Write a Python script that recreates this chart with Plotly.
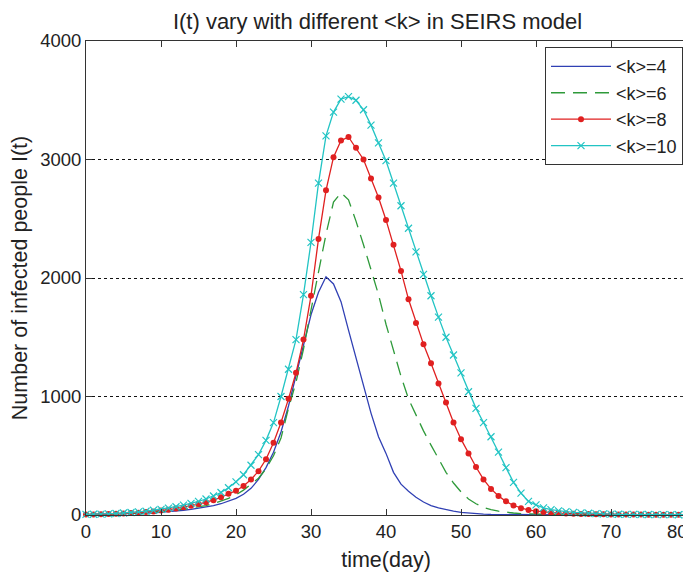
import plotly.graph_objects as go

days = list(range(0, 81))

k4 = [3, 4, 5, 6, 7, 9, 11, 13, 16, 19, 23, 28, 33, 40, 47, 56, 66, 79, 95, 115,
      140, 175, 225, 300, 400, 530, 700, 920, 1170, 1430, 1690, 1880, 2010, 1950, 1800, 1560, 1320, 1090, 860, 660,
      520, 360, 260, 200, 150, 110, 80, 60, 45, 32, 22, 15, 10, 7, 5, 4, 3, 3, 2, 2,
      2, 1, 1, 1, 1, 1, 1, 1, 1, 1, 1, 1, 1, 1, 1, 1, 1, 1, 1, 1, 1]

k6 = [3, 4, 5, 6, 8, 10, 12, 15, 19, 23, 28, 34, 41, 49, 58, 68, 80, 95, 115, 140,
      170, 210, 260, 310, 390, 500, 650, 900, 1120, 1400, 1730, 2040, 2370, 2640, 2720, 2660, 2480, 2280, 2060, 1860,
      1610, 1380, 1170, 980, 840, 710, 590, 470, 360, 270, 195, 135, 95, 65, 45, 32, 23, 17, 12, 9,
      7, 6, 5, 4, 4, 3, 3, 3, 2, 2, 2, 2, 2, 1, 1, 1, 1, 1, 1, 1, 1]

k8 = [4, 5, 6, 8, 10, 13, 16, 20, 25, 30, 37, 45, 54, 65, 78, 92, 108, 125, 150, 180,
      205, 245, 300, 370, 470, 610, 780, 980, 1200, 1480, 1850, 2330, 2740, 3020, 3160, 3190, 3100, 3000, 2840, 2680,
      2490, 2280, 2060, 1820, 1620, 1440, 1280, 1110, 950, 780, 640, 520, 405, 300, 220, 160, 115, 80, 58, 42,
      32, 25, 20, 16, 13, 11, 9, 8, 7, 6, 5, 5, 4, 4, 4, 3, 3, 3, 3, 2, 2]

k10 = [5, 6, 8, 10, 13, 17, 21, 26, 32, 40, 48, 58, 70, 83, 98, 115, 135, 160, 190, 230,
       280, 340, 420, 510, 630, 780, 1000, 1230, 1480, 1860, 2300, 2800, 3200, 3400, 3510, 3530, 3500, 3420, 3290, 3140,
       2990, 2800, 2610, 2420, 2220, 2030, 1850, 1670, 1500, 1350, 1200, 1040, 900, 780, 660, 530, 400, 275, 185, 115,
       85, 60, 45, 35, 28, 22, 18, 15, 12, 10, 8, 6, 5, 5, 4, 4, 3, 3, 3, 2, 2]

names = ["&lt;k&gt;=4", "&lt;k&gt;=6", "&lt;k&gt;=8", "&lt;k&gt;=10"]
x_ticks = [0, 10, 20, 30, 40, 50, 60, 70, 80]
x_tick_labels = ["0", "10", "20", "30", "40", "50", "60", "70", ""]
last_x_label = "80"
y_ticks = [0, 1000, 2000, 3000, 4000]

FONT = "Liberation Sans, Arial, sans-serif"

fig = go.Figure()
fig.add_trace(go.Scatter(x=days, y=k4, mode="lines", name=names[0],
                         line=dict(color="#3040b4", width=1.3), cliponaxis=False))
fig.add_trace(go.Scatter(x=days, y=k6, mode="lines", name=names[1],
                         line=dict(color="#2e9a3a", width=1.3, dash="14px,8px"), cliponaxis=False))
fig.add_trace(go.Scatter(x=days, y=k8, mode="lines+markers", name=names[2],
                         line=dict(color="#e02020", width=1.3),
                         marker=dict(symbol="circle", size=6, color="#e02020"), cliponaxis=False))
fig.add_trace(go.Scatter(x=days, y=k10, mode="lines+markers", name=names[3],
                         line=dict(color="#22c4c4", width=1.3),
                         marker=dict(symbol="x-thin", size=7, color="#22c4c4",
                                     line=dict(color="#22c4c4", width=1.2)), cliponaxis=False))

axis_common = dict(
    showline=True, linecolor="#333333", linewidth=1, mirror="ticks",
    ticks="inside", ticklen=6, tickcolor="#333333", tickwidth=1,
    zeroline=False, automargin=False,
    tickfont=dict(family=FONT, size=18.5, color="#222222"),
)

fig.update_layout(
    width=683, height=570,
    paper_bgcolor="white", plot_bgcolor="white",
    margin=dict(l=78, r=5, t=33, b=63),
    font=dict(family=FONT, color="#222222"),
    title=dict(text="I(t) vary with different &lt;k&gt; in SEIRS model",
               font=dict(family=FONT, size=22, color="#222222"),
               x=0.541, xanchor="center", xref="container",
               y=1 - 13 / 570, yanchor="middle", yref="container"),
    xaxis=dict(range=[0, 80], tickvals=x_ticks, ticktext=x_tick_labels, showgrid=False,
               title=dict(text="time(day)", font=dict(family=FONT, size=21.5, color="#222222"), standoff=10),
               **axis_common),
    yaxis=dict(range=[0, 4000], tickvals=y_ticks, showgrid=True,
               gridcolor="#111111", gridwidth=1, griddash="3px,3px",
               title=dict(text="Number of infected people I(t)",
                          font=dict(family=FONT, size=21.5, color="#222222"), standoff=14),
               **axis_common),
    legend=dict(x=0.995, y=0.987, xanchor="right", yanchor="top",
                bgcolor="white", bordercolor="#333333", borderwidth=1,
                font=dict(family=FONT, size=18, color="#222222"),
                tracegroupgap=0, itemwidth=60),
    showlegend=True,
    annotations=[dict(text=last_x_label, xref="x", x=x_ticks[-1], yref="paper", y=0,
                      xanchor="right", yanchor="top", xshift=4, yshift=-4, showarrow=False,
                      font=dict(family=FONT, size=18.5, color="#222222"))],
)

fig.write_html("out.html")
